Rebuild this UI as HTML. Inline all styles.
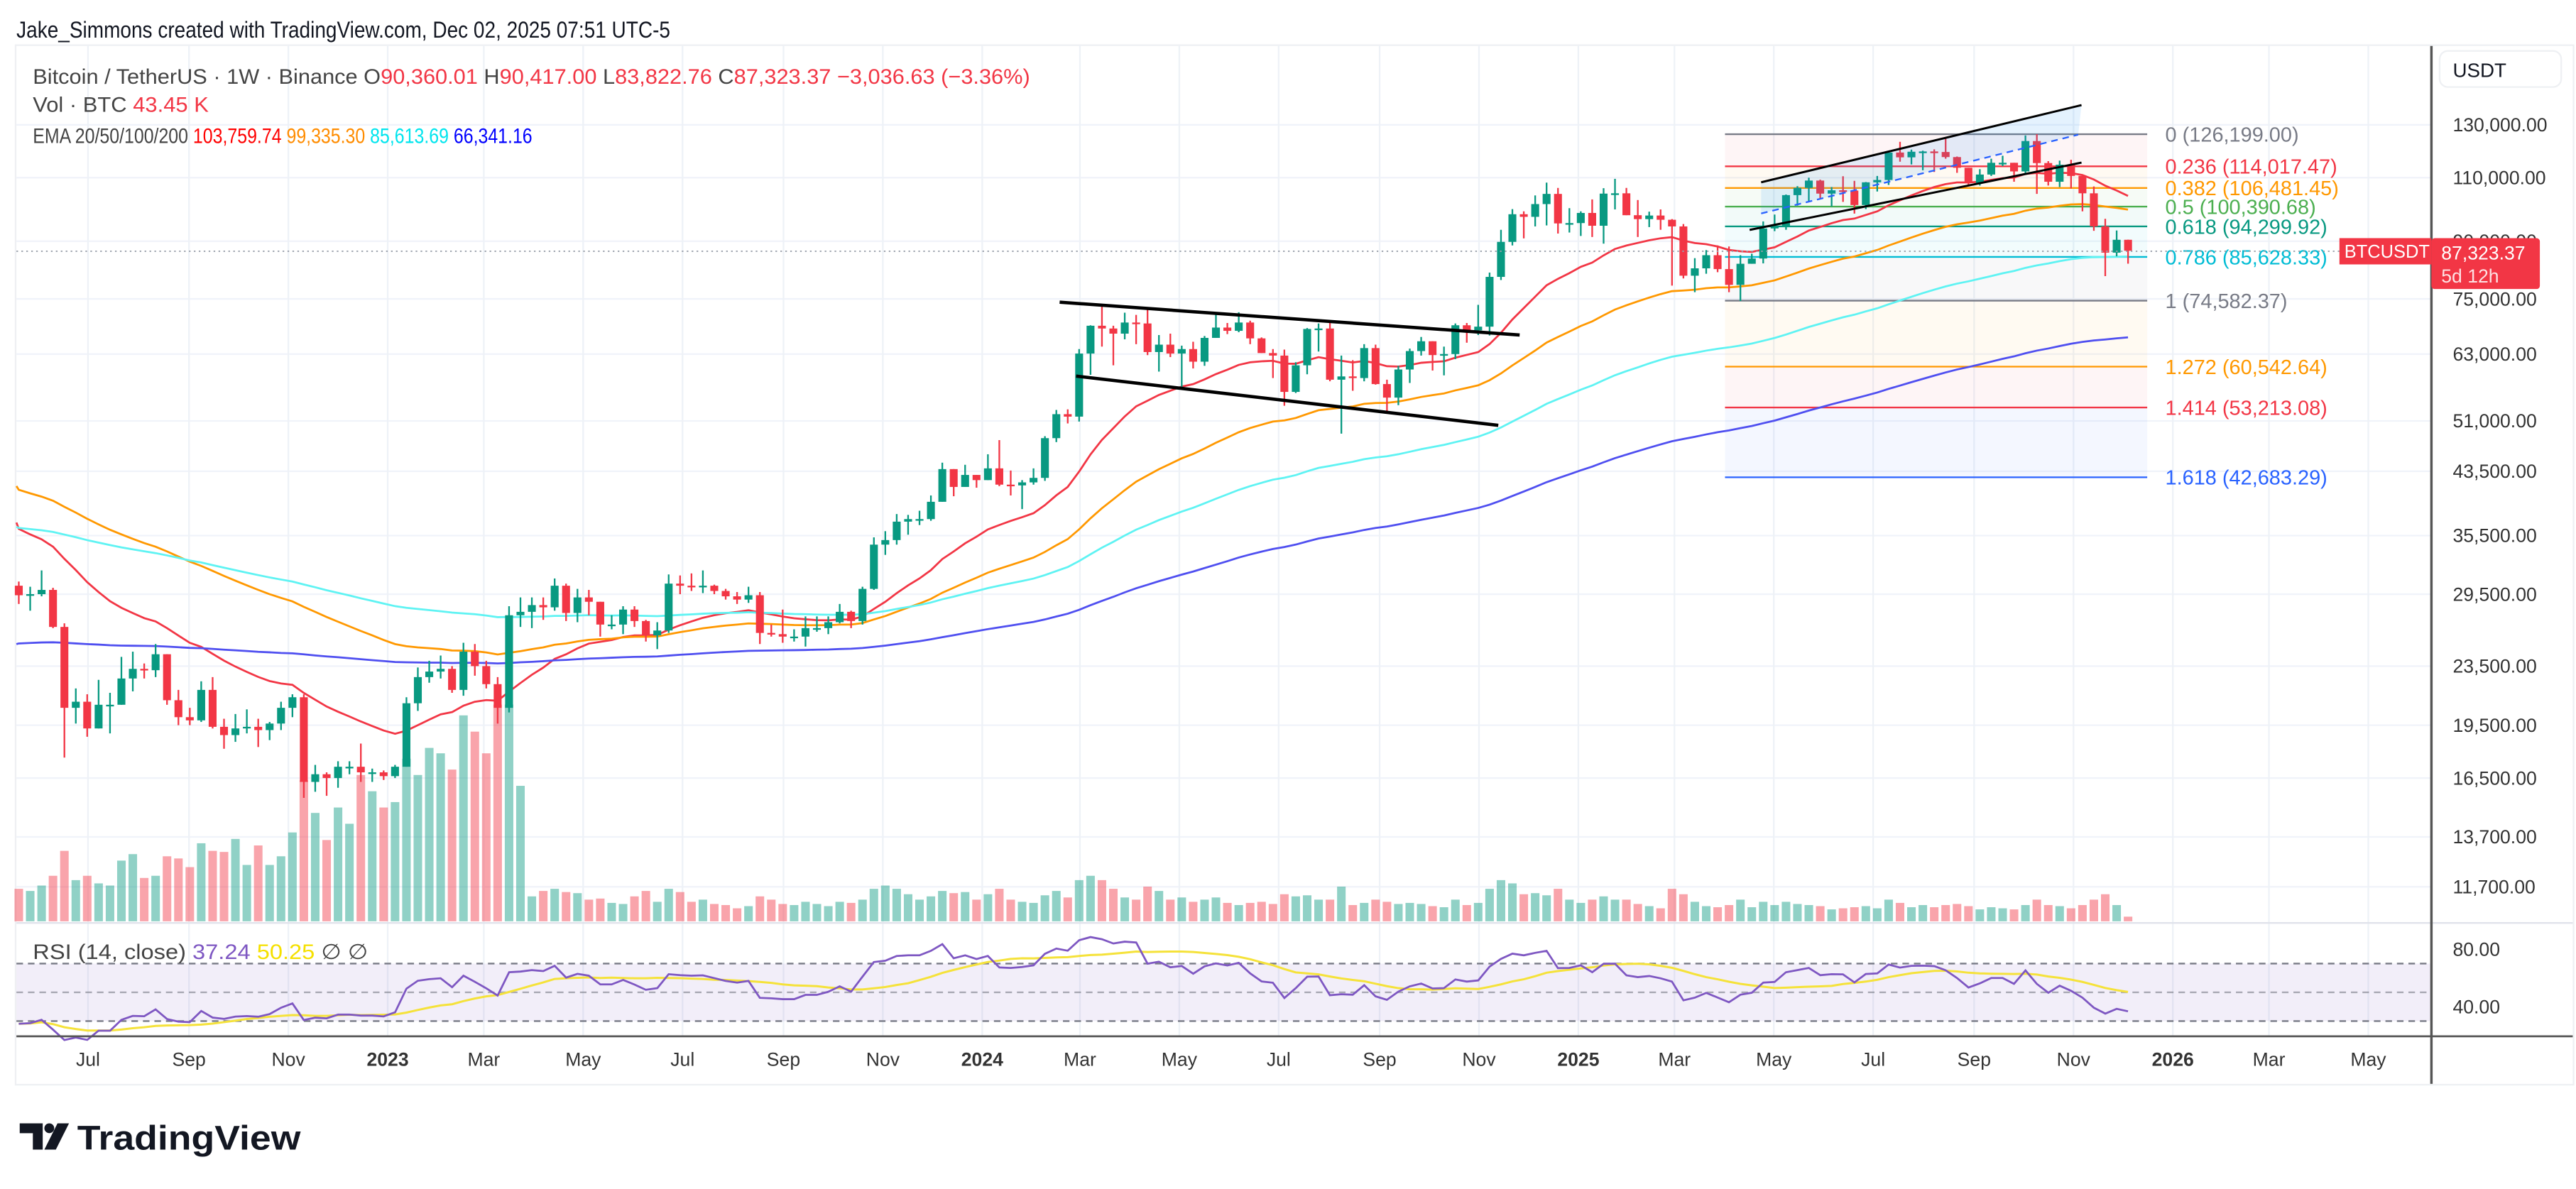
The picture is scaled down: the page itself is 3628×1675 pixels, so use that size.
<!DOCTYPE html>
<html><head><meta charset="utf-8"><style>
html,body{margin:0;padding:0;background:#fff;width:3628px;height:1675px;overflow:hidden}
svg{display:block}
text{font-family:"Liberation Sans",sans-serif}
</style></head><body>
<svg id="chart" xmlns="http://www.w3.org/2000/svg" width="3628" height="1675" viewBox="0 0 1568 724" preserveAspectRatio="none">
<rect x="0" y="0" width="1568" height="724" fill="#fff"/>
<text x="10" y="23" font-size="14" fill="#131722" textLength="398" lengthAdjust="spacingAndGlyphs">Jake_Simmons created with TradingView.com, Dec 02, 2025 07:51 UTC-5</text>
<rect x="9.5" y="27.5" width="1557" height="633" fill="none" stroke="#eef0f3"/>
<g id="grid"></g>
<g id="fib"></g>
<g id="vol"></g>
<g id="emas"></g>
<g id="candles"></g>
<g id="draw">
  <line x1="645" y1="184" x2="925" y2="204" stroke="#000" stroke-width="2"/>
  <line x1="655" y1="229" x2="912" y2="259" stroke="#000" stroke-width="2"/>
  <polygon points="1072,130 1265,82 1267,64 1072,111" fill="rgba(33,150,243,0.12)"/>
  <line x1="1072" y1="111" x2="1267" y2="64" stroke="#000" stroke-width="1.3"/>
  <line x1="1065" y1="140" x2="1267" y2="99" stroke="#000" stroke-width="1.3"/>
  <line x1="1072" y1="130" x2="1265" y2="82" stroke="#2962ff" stroke-width="1" stroke-dasharray="4,3"/>
</g>
<g id="rsi"></g>
<line x1="10" y1="153" x2="1480" y2="153" stroke="#9aa0ab" stroke-width="0.8" stroke-dasharray="1,2"/>
<line x1="10" y1="562" x2="1480" y2="562" stroke="#e0e3eb" stroke-width="1"/>
<line x1="10" y1="631" x2="1566" y2="631" stroke="#555" stroke-width="1.2"/>
<line x1="1480" y1="562" x2="1566" y2="562" stroke="#e0e3eb" stroke-width="1"/>
<line x1="1480" y1="28" x2="1480" y2="660" stroke="#555" stroke-width="1.5"/>
<g id="axes"></g>
<rect x="1485" y="31" width="74" height="22" rx="5" fill="#fff" stroke="#eef0f3"/>
<text x="1493" y="47" font-size="12" fill="#131722">USDT</text>
<rect x="1424" y="145" width="56" height="16" fill="#f23645"/>
<text x="1427" y="157" font-size="11" fill="#fff">BTCUSDT</text>
<rect x="1480" y="145" width="66" height="31" rx="2" fill="#f23645"/>
<text x="1486" y="158" font-size="11.5" fill="#fff">87,323.37</text>
<text x="1486" y="172" font-size="11.5" fill="#fde0e2">5d 12h</text>
<g font-size="13">
  <text x="20" y="51" fill="#444" textLength="607" lengthAdjust="spacingAndGlyphs">Bitcoin / TetherUS · 1W · Binance  O<tspan fill="#f23645">90,360.01</tspan>  H<tspan fill="#f23645">90,417.00</tspan>  L<tspan fill="#f23645">83,822.76</tspan>  C<tspan fill="#f23645">87,323.37</tspan>  <tspan fill="#f23645">−3,036.63 (−3.36%)</tspan></text>
  <text x="20" y="68" fill="#444" textLength="107" lengthAdjust="spacingAndGlyphs">Vol · BTC  <tspan fill="#f23645">43.45 K</tspan></text>
  <text x="20" y="87" fill="#444" textLength="304" lengthAdjust="spacingAndGlyphs">EMA 20/50/100/200  <tspan fill="#ff0000">103,759.74</tspan>  <tspan fill="#ff8c00">99,335.30</tspan>  <tspan fill="#00e5ee">85,613.69</tspan>  <tspan fill="#0000ff">66,341.16</tspan></text>
  <text x="20" y="584" fill="#444" textLength="204" lengthAdjust="spacingAndGlyphs">RSI (14, close)  <tspan fill="#7e57c2">37.24</tspan>  <tspan fill="#f5e000">50.25</tspan>  ∅  ∅</text>
</g>
<g>
  <path d="M12 684 h14 v16 h-6 v-10 h-8z" fill="#131722"/>
  <circle cx="30" cy="687" r="3" fill="#131722"/>
  <path d="M35 684 h7 l-8 16 h-7z" fill="#131722"/>
  <text x="47" y="700" font-size="21" font-weight="bold" fill="#131722" textLength="136" lengthAdjust="spacingAndGlyphs">TradingView</text>
</g>
</svg>
<script>
const closes=[29.4,29.5,29.9,26.6,20.6,21.0,19.3,20.8,20.8,22.6,23.3,23.2,24.4,21.1,20.0,19.8,21.8,19.4,18.9,19.3,19.4,19.2,19.6,20.6,21.3,16.3,16.7,16.5,17.1,17.1,16.8,16.8,16.6,
17.1,20.9,22.7,23.1,23.3,21.8,24.6,23.5,22.2,20.6,27.6,27.9,28.5,28.3,30.3,27.8,29.2,28.8,26.8,26.8,28.1,27.1,25.9,26.3,30.5,30.3,30.2,30.3,29.8,29.3,29.0,29.4,26.1,26.0,25.8,25.8,26.5,26.5,27.0,27.9,27.1,30.0,34.5,35.0,37.1,37.4,37.4,39.5,43.8,41.4,43.0,42.3,
43.9,41.7,41.6,42.0,42.6,48.3,52.1,51.7,63.1,68.9,68.3,67.2,69.6,69.4,63.4,64.9,63.1,64.0,61.5,66.3,68.5,67.8,69.6,66.2,63.2,62.7,55.9,60.8,68.2,68.3,58.1,58.7,58.4,64.2,57.3,54.9,60.0,63.6,65.6,62.8,63.0,69.0,67.9,68.7,80.4,89.8,98.0,97.2,101.2,104.5,95.2,95.3,98.4,
94.5,104.6,104.7,97.7,96.5,97.6,96.3,94.3,80.7,82.6,86.1,82.4,78.4,83.8,85.2,93.7,94.3,104.1,106.5,109.0,104.6,105.7,105.6,100.9,108.4,109.2,119.1,117.3,119.4,119.5,119.3,117.4,113.5,108.2,111.1,115.3,115.3,112.2,123.5,115.2,108.6,114.6,110.6,104.7,94.3,86.8,90.4,87.323];
const highs=[30.7,30.2,31.8,30.1,26.9,21.9,21.5,22.5,21.6,24.2,24.6,23.7,25.2,24.4,21.8,20.6,22.4,22.7,19.9,20.2,20.5,19.9,19.7,21.0,21.5,21.5,17.2,16.8,17.4,17.4,18.4,17.0,16.9,
17.2,21.3,23.4,23.9,24.3,23.5,25.3,25.2,23.9,22.7,28.4,29.2,29.2,29.2,31.0,30.5,30.0,29.9,28.0,27.6,28.4,28.4,27.2,27.0,31.4,31.3,31.5,31.8,30.4,30.0,29.7,30.2,29.7,26.8,28.1,26.4,27.5,27.5,27.5,28.6,28.0,30.2,35.3,36.0,38.0,37.9,38.4,40.3,44.7,43.4,44.4,43.0,
45.9,48.0,43.6,42.3,43.9,48.6,52.8,52.9,64.0,69.0,73.8,68.9,71.8,71.3,72.8,66.9,67.2,64.7,65.5,66.7,71.9,69.5,71.9,70.0,66.4,64.0,63.9,61.4,68.4,69.4,70.0,62.7,61.8,65.0,64.9,58.1,60.7,64.1,66.5,65.0,64.5,69.4,69.5,73.6,81.5,93.3,99.6,98.9,104.0,108.3,106.5,99.9,98.9,
102.7,106.4,109.6,106.5,102.5,98.8,99.5,96.5,95.0,85.3,87.5,88.8,88.5,86.1,86.5,95.8,97.9,104.3,107.1,110.0,109.3,106.8,110.5,108.9,108.5,110.6,118.9,123.2,120.2,119.8,120.3,124.5,117.6,113.4,113.0,116.8,117.9,113.7,125.7,126.2,115.9,116.1,116.4,107.5,107.0,96.6,93.1,90.417];
const lows=[28.6,28.0,29.3,26.5,17.6,19.6,18.8,19.3,19.0,20.8,21.7,22.6,22.7,20.8,19.5,19.5,19.7,19.3,18.1,18.5,19.0,18.2,18.6,19.2,20.0,15.5,15.8,15.6,16.0,16.7,16.3,16.3,16.4,
16.5,17.1,20.4,22.3,22.6,21.6,21.4,22.8,21.9,19.6,20.3,26.6,26.5,27.2,28.0,27.1,27.0,27.6,25.8,26.4,26.0,26.6,25.4,24.8,26.1,29.5,29.8,29.6,29.5,29.0,28.6,28.7,25.2,25.8,25.3,25.4,25.0,26.2,26.0,26.9,26.5,26.8,29.9,33.4,34.5,35.6,36.7,37.2,39.6,40.2,41.6,41.3,
42.6,41.5,40.3,38.6,41.7,42.2,47.7,50.6,50.9,59.0,64.5,60.8,66.0,65.0,62.8,59.6,62.4,56.6,60.2,60.7,66.5,67.1,67.5,65.0,63.3,58.4,53.5,55.7,59.1,63.5,57.8,49.0,56.1,57.8,57.2,52.6,53.6,57.5,62.7,59.8,58.9,62.0,65.3,66.9,66.8,79.6,88.8,90.8,94.3,94.6,92.2,92.5,91.5,
91.2,89.3,99.5,97.8,91.2,94.1,93.3,78.2,80.0,76.6,81.2,81.6,76.6,74.5,83.9,83.9,92.9,93.3,100.7,102.0,103.1,100.4,101.9,98.2,99.6,105.3,107.5,115.7,114.7,112.6,112.0,116.8,111.7,107.3,107.3,110.6,114.1,108.6,111.0,104.5,107.3,106.8,106.3,98.9,93.0,80.6,85.8,83.823];
const volumes=[300,280,330,420,650,380,420,350,330,560,620,400,420,600,580,500,720,650,640,760,520,700,520,600,820,1300,1000,750,1050,900,1350,1200,1050,
1100,1500,1350,1600,1550,1400,1900,1750,1550,2000,2000,1250,230,280,300,270,260,200,210,170,160,230,280,180,300,270,180,200,160,150,120,140,230,200,160,150,180,160,140,180,170,200,300,330,300,250,200,230,280,260,270,200,
250,300,200,180,170,240,280,220,380,420,380,300,220,200,320,280,200,220,180,200,220,170,150,170,180,160,250,230,240,200,200,320,150,170,200,180,160,170,160,140,130,200,150,170,300,380,350,250,260,240,300,200,170,
200,230,200,200,160,140,120,300,250,180,140,130,150,200,130,180,150,180,160,150,140,110,120,130,140,120,200,170,130,150,130,150,160,140,110,130,120,110,150,200,150,140,120,150,200,250,150,43];
const firstOpen=30.3;
const emaPeriods=[20,50,100,200];
const emaSeeds=[37.0,41.5,36.5,25.2];
const emaColors=["#f23645","#ff9800","#5ff3f3","#4f4ff0"];
const priceTicks=[130000,110000,90000,75000,63000,51000,43500,35500,29500,23500,19500,16500,13700,11700];
const rsiTicks=[80,40];
const timeLabels=["Jul","Sep","Nov","2023","Mar","May","Jul","Sep","Nov","2024","Mar","May","Jul","Sep","Nov","2025","Mar","May","Jul","Sep","Nov","2026","Mar","May"];
const timeLabelDates=["2022-07-01","2022-09-01","2022-11-01","2023-01-01","2023-03-01","2023-05-01","2023-07-01","2023-09-01","2023-11-01","2024-01-01","2024-03-01","2024-05-01","2024-07-01","2024-09-01","2024-11-01","2025-01-01","2025-03-01","2025-05-01","2025-07-01","2025-09-01","2025-11-01","2026-01-01","2026-03-01","2026-05-01"];
const fibRatios=["0","0.236","0.382","0.5","0.618","0.786","1","1.272","1.414","1.618"];
const fibPrices=[126199.00,114017.47,106481.45,100390.68,94299.92,85628.33,74582.37,60542.64,53213.08,42683.29];
const fibColors=["#787b86","#f23645","#ff9800","#4caf50","#089981","#00bcd4","#787b86","#ff9800","#f23645","#2962ff"];

const NS="http://www.w3.org/2000/svg";
function mk(tag,attrs,parent){const e=document.createElementNS(NS,tag);for(const k in attrs)e.setAttribute(k,attrs[k]);parent.appendChild(e);return e;}
const BASE=Date.UTC(2023,0,1), START=Date.UTC(2022,4,16), DAY=86400000, PXW=6.94;
function xDate(ms){return 236+((ms-BASE)/DAY)/7*PXW;}
function xi(i){return xDate(START+(i*7+3.5)*DAY);}
function yP(p){return 76+(Math.log(130000)-Math.log(p))*192.7;}
function yR(v){return 578+(80-v)*0.875;}
function yV(v){return 561-v*0.066;}

const grid=document.getElementById('grid'),axes=document.getElementById('axes');
priceTicks.forEach(p=>{
  const y=yP(p);
  const gl=mk('line',{x1:10,y1:y,x2:1480,y2:y,stroke:'#f0f3fa','stroke-width':1},grid);
  
  
  const t=mk('text',{x:1493,y:y+4,'font-size':11.5,fill:'#333'},axes);
  t.textContent=p.toLocaleString('en-US',{minimumFractionDigits:2});
  
  
});
rsiTicks.forEach(v=>{
  const t=mk('text',{x:1493,y:yR(v)+4,'font-size':11.5,fill:'#333'},axes);
  t.textContent=v.toFixed(2);
  
  
});
timeLabels.forEach((lab,k)=>{
  const x=xDate(Date.parse(timeLabelDates[k]));
  const gl=mk('line',{x1:x,y1:28,x2:x,y2:631,stroke:'#eef2f7','stroke-width':1},grid);
  
  
  const t=mk('text',{x:x,y:649,'font-size':11.5,fill:'#333','text-anchor':'middle','font-weight':/^\d/.test(lab)?'bold':'normal'},axes);
  t.textContent=lab;
  
  
});

// fib
const fib=document.getElementById('fib');
for(let k=0;k<fibPrices.length;k++){
  const y=yP(fibPrices[k]);
  if(k<fibPrices.length-1){
    const r=mk('rect',{x:1050,y:y,width:257,height:yP(fibPrices[k+1])-y,fill:fibColors[k+1],opacity:0.05},fib);
    
    
  }
  const l=mk('line',{x1:1050,y1:y,x2:1307,y2:y,stroke:fibColors[k],'stroke-width':1},fib);
  
  
  const t=mk('text',{x:1318,y:y+4.5,'font-size':12.5,fill:fibColors[k]},fib);
  t.textContent=fibRatios[k]+' ('+fibPrices[k].toLocaleString('en-US',{minimumFractionDigits:2})+')';
  
  
}

// volume + candles
const vol=document.getElementById('vol'),cg=document.getElementById('candles');
for(let i=0;i<closes.length;i++){
  const o=(i===0?firstOpen:closes[i-1])*1000,c=closes[i]*1000;
  const h=Math.max(highs[i]*1000,o,c),l=Math.min(lows[i]*1000,o,c);
  const up=c>=o,x=xi(i),col=up?'#089981':'#f23645';
  const v=mk('rect',{x:x-2.6,y:yV(volumes[i]),width:5.2,height:561-yV(volumes[i]),fill:up?'rgba(8,153,129,0.45)':'rgba(242,54,69,0.45)'},vol);
  
  
  const w=mk('line',{x1:x,y1:yP(h),x2:x,y2:yP(l),stroke:col,'stroke-width':1},cg);
  
  
  const yt=yP(Math.max(o,c)),yb=yP(Math.min(o,c));
  const b=mk('rect',{x:x-2.4,y:yt,width:4.8,height:Math.max(1,yb-yt),fill:col},cg);
  
  
}

// EMAs
const eg=document.getElementById('emas');
emaPeriods.forEach((n,k)=>{
  const a=2/(n+1);let e=emaSeeds[k]*1000;let d='M10,'+yP(e).toFixed(1);
  for(let i=0;i<closes.length;i++){e+=a*(closes[i]*1000-e);d+=' L'+xi(i).toFixed(1)+','+yP(e).toFixed(1);}
  const p=mk('path',{d:d,fill:'none',stroke:emaColors[k],'stroke-width':1.2},eg);
  
  
});

// RSI
const rg=document.getElementById('rsi');
const band=mk('rect',{x:10,y:yR(70),width:1470,height:yR(30)-yR(70),fill:'rgba(126,87,194,0.1)'},rg);


[70,50,30].forEach(v=>{
  const l=mk('line',{x1:10,y1:yR(v),x2:1480,y2:yR(v),stroke:'#787b86','stroke-width':1,'stroke-dasharray':'4,3',opacity:v===50?0.6:1},rg);
  
  
});
let ag=300,al=700;const rsi=[];
for(let i=0;i<closes.length;i++){
  const prev=i===0?firstOpen:closes[i-1];const ch=(closes[i]-prev)*1000;
  ag=(ag*13+Math.max(ch,0))/14;al=(al*13+Math.max(-ch,0))/14;
  rsi.push(100-100/(1+ag/al));
}
let dR='',dM='';
for(let i=0;i<rsi.length;i++){
  const s=rsi.slice(Math.max(0,i-13),i+1);const m=s.reduce((a,b)=>a+b,0)/s.length;
  dR+=(i?' L':'M')+xi(i).toFixed(1)+','+yR(rsi[i]).toFixed(1);
  dM+=(i?' L':'M')+xi(i).toFixed(1)+','+yR(m).toFixed(1);
}
const pm=mk('path',{d:dM,fill:'none',stroke:'#f5e23a','stroke-width':1.3},rg);


const pr=mk('path',{d:dR,fill:'none',stroke:'#7e57c2','stroke-width':1.2},rg);


</script>
</body></html>
